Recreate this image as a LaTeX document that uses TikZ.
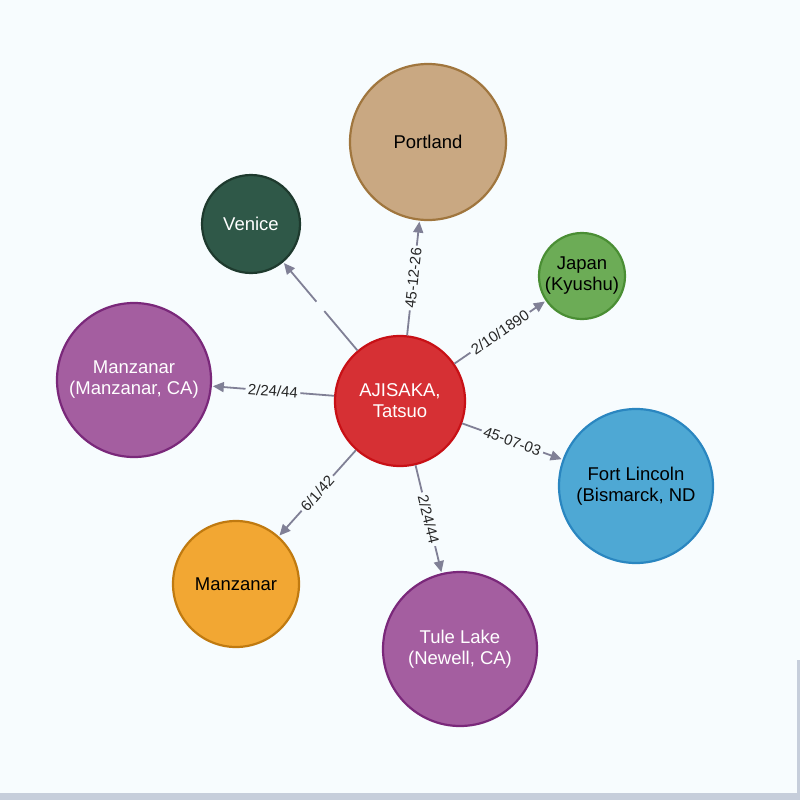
\documentclass[tikz,border=0pt]{standalone}
\usepackage{fontspec}
\setmainfont{Liberation Sans}
\usetikzlibrary{arrows.meta}
\definecolor{bg}{RGB}{247,252,254}
\definecolor{edgec}{RGB}{128,128,150}
\definecolor{redF}{RGB}{214,48,52}\definecolor{redD}{RGB}{200,16,22}
\definecolor{tanF}{RGB}{201,168,130}\definecolor{tanD}{RGB}{160,118,62}
\definecolor{dgF}{RGB}{47,88,72}\definecolor{dgD}{RGB}{30,58,46}
\definecolor{gF}{RGB}{108,172,86}\definecolor{gD}{RGB}{74,142,52}
\definecolor{pF}{RGB}{164,94,160}\definecolor{pD}{RGB}{122,40,122}
\definecolor{bF}{RGB}{78,168,212}\definecolor{bD}{RGB}{42,134,192}
\definecolor{oF}{RGB}{242,167,51}\definecolor{oD}{RGB}{192,122,16}
\definecolor{stripc}{RGB}{198,206,219}
\tikzset{
  circ/.style={circle, line width=2.2pt, inner sep=0pt, align=center,
    font=\fontsize{18.5}{21}\selectfont},
  rel/.style={line width=1.8pt, draw=edgec, -{Triangle[length=11pt,width=10pt]}, shorten >=1pt},
  lab/.style={midway, sloped, fill=bg, inner sep=2.5pt, text=black!85,
    font=\fontsize{15}{17}\selectfont}
}
\begin{document}
\begin{tikzpicture}[x=1pt,y=-1pt]
\fill[bg] (0,0) rectangle (800,800);
\useasboundingbox (0,0) rectangle (800,800);
\fill[stripc] (0,793) rectangle (800,800);
\fill[stripc] (797,660) rectangle (800,793);

\node[circ, minimum size=130pt, fill=redF, draw=redD, text=white] (c) at (400,401) {AJISAKA,\\Tatsuo};
\node[circ, minimum size=156pt, fill=tanF, draw=tanD, text=black] (portland) at (428,142) {Portland};
\node[circ, minimum size=98pt, fill=dgF, draw=dgD, text=white] (venice) at (251,224) {Venice};
\node[circ, minimum size=86pt, fill=gF, draw=gD, text=black] (japan) at (582,276) {Japan\\(Kyushu)};
\node[circ, minimum size=154pt, fill=pF, draw=pD, text=white] (manzca) at (134,380) {Manzanar\\(Manzanar, CA)};
\node[circ, minimum size=154pt, fill=bF, draw=bD, text=black] (fort) at (636,486) {Fort Lincoln\\(Bismarck, ND};
\node[circ, minimum size=126pt, fill=oF, draw=oD, text=black] (manz) at (236,584) {Manzanar};
\node[circ, minimum size=154pt, fill=pF, draw=pD, text=white] (tule) at (460,649) {Tule Lake\\(Newell, CA)};

\draw[rel] (c) -- node[lab]{45-12-26} (portland);
\draw[rel] (c) -- node[midway, sloped, fill=bg, minimum width=12pt, minimum height=4pt, inner sep=0pt]{} (venice);
\draw[rel] (c) -- node[lab]{2/10/1890} (japan);
\draw[rel] (c) -- node[lab]{2/24/44} (manzca);
\draw[rel] (c) -- node[lab]{45-07-03} (fort);
\draw[rel] (c) -- node[lab]{6/1/42} (manz);
\draw[rel] (c) -- node[lab]{2/24/44} (tule);
\end{tikzpicture}
\end{document}
